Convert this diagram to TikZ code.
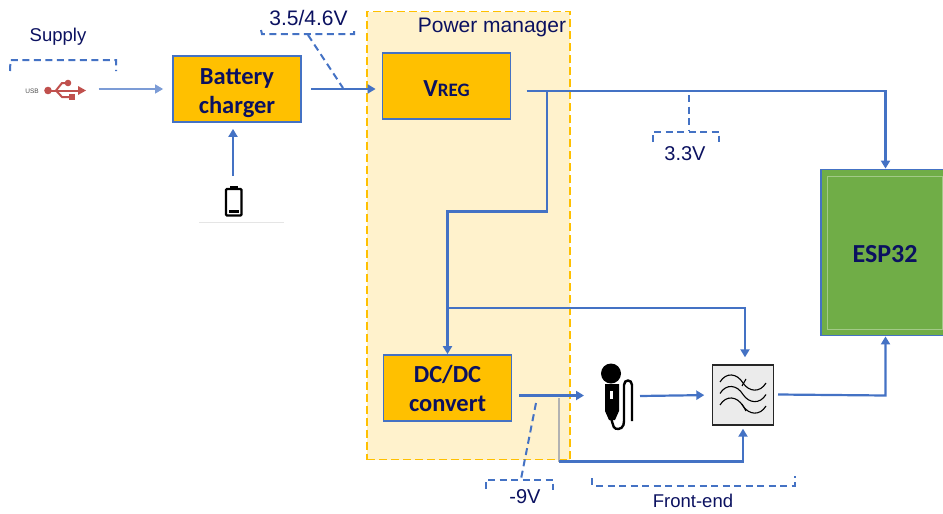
\documentclass[tikz,border=0pt]{standalone}
\usepackage{fontspec}
\setmainfont{Liberation Sans}
\newfontfamily\boxfont{Carlito}[Scale=1]
\usetikzlibrary{arrows.meta}
\definecolor{navy}{HTML}{0B1160}
\definecolor{lnblue}{HTML}{4472C4}
\definecolor{amber}{HTML}{FFC000}
\definecolor{pale}{HTML}{FFF2CC}
\definecolor{leaf}{HTML}{70AD47}
\definecolor{redusb}{HTML}{C0504D}
\tikzset{
 x=1pt,y=-1pt,
 block/.style={draw=lnblue,line width=1.8pt,fill=amber,minimum width=128pt,minimum height=66pt,inner sep=0pt,align=center,text=navy,font=\boxfont\bfseries\fontsize{24.5}{29}\selectfont},
 wire/.style={draw=lnblue,line width=2.2pt},
 arrow/.style={wire,-{Triangle[length=8pt,width=9pt]}},
 brace/.style={draw=lnblue,line width=2pt,dash pattern=on 7pt off 4.5pt},
 lab/.style={text=navy,font=\fontsize{21}{24}\selectfont,inner sep=0pt},
}
\begin{document}
\begin{tikzpicture}
\useasboundingbox (0,0) rectangle (943,514);
% power manager
\node[draw=amber,fill=pale,line width=1.8pt,dash pattern=on 8pt off 4pt,minimum width=203pt,minimum height=448pt,inner sep=0pt] (pm) at (468.5,235.5) {};
\node[lab] (pmlab) at (492,27.5) {Power manager};
% blocks
\node[block] (bat) at (237,89) {\rule{0pt}{25pt}Battery\\charger};
\node[block] (vreg) at (446.5,86) {\rule{0pt}{21pt}V\fontsize{19}{22}\selectfont REG};
\node[block] (dc) at (447.5,388) {DC/DC\\convert};
\node[draw=lnblue,line width=1.8pt,fill=leaf,minimum width=128pt,minimum height=166pt,inner sep=0pt,text=navy,font=\boxfont\bfseries\fontsize{26}{30}\selectfont] (esp) at (885,252.5) {\rule{0pt}{21pt}ESP32};
\draw[draw=leaf!65!white,line width=1pt] (827.5,176) rectangle (942.5,329.5);
% filter
\node[draw=black!85,fill=black!8,line width=1.4pt,minimum width=61pt,minimum height=60pt,inner sep=0pt] (flt) at (743,395) {};
\foreach \d in {0,11.5,23}{
 \draw[black,line width=1.1pt] (720,382+\d) .. controls (726,372+\d) and (737,373+\d) .. (743,383+\d) .. controls (749,392+\d) and (760,393+\d) .. (766,383+\d);
}
\draw[black,line width=1.1pt] (742,386) -- (746,379);
\draw[black,line width=1.1pt] (742,404) -- (746,411);
% USB icon
\node[font=\fontsize{6.5}{8}\selectfont,text=black!70,inner sep=0pt] (usbt) at (32,91) {USB};
\coordinate (usbL) at (48,90.5);
\fill[redusb] (usbL) circle (3.8pt);
\fill[redusb] (68,83) circle (3.3pt);
\fill[redusb] (69,94) rectangle (75,100);
\draw[redusb,line width=2pt] (usbL) -- (80,90.5);
\draw[redusb,line width=2pt] (56,90.5) -- (62,83) -- (68,83);
\draw[redusb,line width=2pt] (56,90.5) -- (62,97) -- (70,97);
\fill[redusb] (86,90.5) -- (78,86) -- (78,95) -- cycle;
\coordinate (usbout) at (98.5,89);
% battery icon
\draw[black,line width=2.2pt,rounded corners=1pt] (226,189) rectangle (241.5,215.5);
\fill[black] (230,185.5) rectangle (237.5,189);
\fill[black] (228.5,210) rectangle (239,213);
\draw[black!10,line width=0.6pt] (199,222) -- (284,222);
\coordinate (battop) at (233,176);
% mic icon
\coordinate (micin) at (584,395.5);
\coordinate (micout) at (640,396);
\fill[black] (611,373.5) circle (10pt);
\fill[black] (605,384) -- (619,384) -- (619,411) -- (615,420) -- (609,420) -- (605,411) -- cycle;
\fill[white] (610,391) rectangle (613,398.5);
\draw[black,line width=2.4pt,rounded corners=2pt] (611,418) -- (613,425) .. controls (615,430) and (622,430) .. (624,423) -- (624,387) .. controls (624,379) and (632,379) .. (632,387) -- (632,421);
% connectors
\coordinate (vregout) at (526.5,91);
\coordinate (vturn) at (885.5,91);
\coordinate (j1) at (547,91);
\coordinate (j2) at (547,211.5);
\coordinate (j3) at (447.5,211.5);
\coordinate (j4) at (447.5,308);
\coordinate (j5) at (745,308);
\coordinate (dcout) at (519,395.5);
\coordinate (j6) at (559,398);
\coordinate (j7) at (559,461.5);
\coordinate (j8) at (743,461.5);
\coordinate (fout) at (778,394.5);
\coordinate (j9) at (885.5,395.5);
\draw[arrow,line width=1.2pt,draw=lnblue!70!white,shorten >=9pt] (usbout) -- (bat.west);
\draw[arrow,shorten >=6pt] (battop) -- (bat.south -| battop);
\draw[arrow,line width=2.6pt,shorten <=9.5pt,shorten >=6pt] (bat.east) -- (vreg.west |- bat.east);
\draw[arrow] (vregout) -- (vturn) -- (esp.north -| vturn);
\draw[arrow] (j1) -- (j2) -- (j3) -- (dc.north);
\draw[arrow,shorten >=7pt] (j4) -- (j5) -- (flt.north -| j5);
\draw[arrow] (dcout) -- (micin);
\draw[draw=black!30,line width=1.2pt] (j6) -- (j7);
\draw[arrow,shorten >=3pt] (j7) -- (j8) -- (flt.south -| j8);
\draw[arrow,shorten >=7.5pt] (micout) -- (flt.west);
\draw[arrow] (fout) -- (j9) -- (esp.south -| j9);
% braces
\draw[brace] (10,71) -- (10.5,60) -- (116,60) -- (116,71);
\node[lab,font=\fontsize{18.5}{21}\selectfont] (supply) at (58,36.5) {Supply};
\node[lab] (v35) at (308.5,17.5) {3.5/4.6V};
\draw[brace] (261,30) -- (262,34) -- (354,34) -- (354,30);
\draw[brace] (308,35) -- (343,88);
\draw[brace] (653,142) -- (653,131.5) -- (719,131.5) -- (719,142);
\draw[brace] (689,95) -- (689,131);
\node[lab,font=\fontsize{20}{24}\selectfont] (v33) at (685,154) {3.3V};
\draw[brace] (536,403) -- (521,479);
\draw[brace] (486,489) -- (486,479.5) -- (553,479.5) -- (553,490);
\node[lab,font=\fontsize{20}{24}\selectfont] (v9) at (525,497) {-9V};
\draw[brace] (592,478) -- (592,485.5) -- (795,485.5) -- (795,476);
\node[lab,font=\fontsize{18.5}{22}\selectfont] (fe) at (693,500.5) {Front-end};
\end{tikzpicture}
\end{document}
